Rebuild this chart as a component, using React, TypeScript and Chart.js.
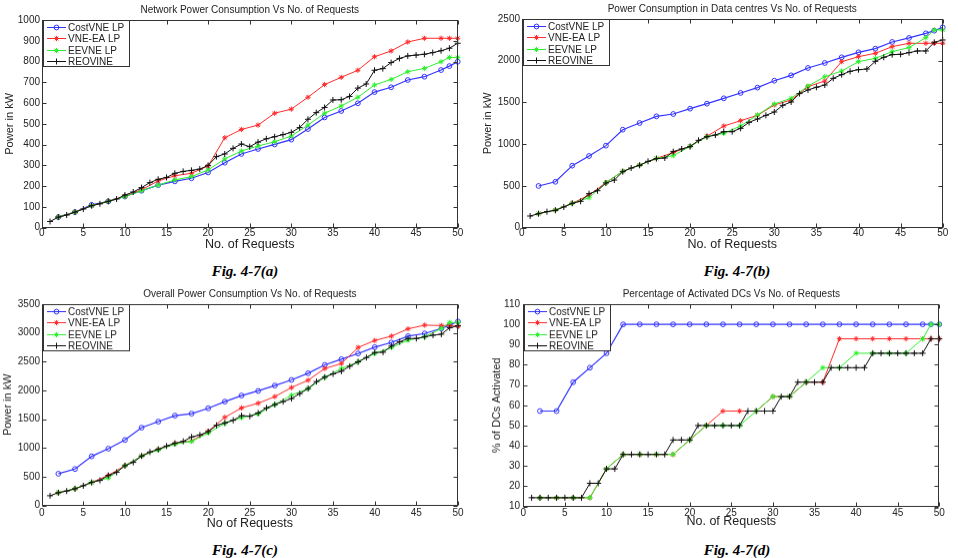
import React, { useEffect, useRef } from "react";
import { Chart, registerables } from "chart.js";

Chart.register(...registerables);
Chart.defaults.font.family = "'Liberation Sans', Arial, sans-serif";

// ---------- shared axes data ----------
const xTickValues = [0, 5, 10, 15, 20, 25, 30, 35, 40, 45, 50];
const reqAll = [1, 2, 3, 4, 5, 6, 7, 8, 9, 10, 11, 12, 13, 14, 15, 16, 17, 18, 19, 20, 21, 22, 23, 24, 25, 26, 27, 28, 29, 30, 31, 32, 33, 34, 35, 36, 37, 38, 39, 40, 41, 42, 43, 44, 45, 46, 47, 48, 49, 50];
const reqSub = [2, 4, 6, 8, 10, 12, 14, 16, 18, 20, 22, 24, 26, 28, 30, 32, 34, 36, 38, 40, 42, 44, 46, 48, 49, 50];

const seriesNames = ["CostVNE LP", "VNE-EA LP", "EEVNE LP", "REOVINE"];

// ---------- (a) Network power consumption ----------
const netCost = [51, 75, 110, 127, 150, 178, 205, 223, 238, 266, 313, 355, 379, 401, 424, 475, 531, 562, 599, 653, 676, 711, 727, 759, 778, 799];
const netVneEa = [51, 75, 106, 127, 152, 183, 225, 250, 262, 297, 433, 473, 494, 551, 571, 628, 689, 724, 758, 823, 851, 894, 912, 912, 912, 912];
const netEevne = [51, 75, 106, 127, 150, 178, 205, 230, 246, 278, 331, 369, 393, 414, 441, 494, 551, 586, 628, 687, 714, 751, 767, 799, 820, 820];
const netReovine = [30, 51, 61, 75, 90, 106, 115, 127, 138, 157, 172, 193, 217, 233, 242, 262, 271, 276, 282, 300, 342, 355, 382, 403, 390, 412, 428, 438, 448, 459, 482, 522, 554, 579, 615, 616, 632, 672, 692, 758, 766, 795, 815, 827, 831, 835, 843, 852, 864, 888];

// ---------- (b) Power consumption in data centres ----------
const dcCost = [500, 550, 743, 859, 983, 1174, 1254, 1334, 1362, 1426, 1486, 1550, 1614, 1678, 1761, 1825, 1913, 1973, 2041, 2101, 2145, 2225, 2273, 2328, 2360, 2400];
const dcVneEa = [168, 212, 292, 390, 540, 675, 750, 830, 900, 975, 1095, 1218, 1282, 1346, 1470, 1530, 1690, 1757, 1989, 2049, 2089, 2169, 2209, 2209, 2209, 2209];
const dcEevne = [168, 212, 292, 359, 540, 675, 750, 830, 863, 975, 1090, 1130, 1218, 1350, 1482, 1550, 1697, 1809, 1877, 1989, 2029, 2109, 2157, 2277, 2369, 2369];
const dcReovine = [140, 168, 192, 208, 248, 292, 316, 407, 443, 535, 571, 671, 715, 747, 795, 827, 835, 911, 943, 971, 1046, 1090, 1110, 1150, 1150, 1190, 1262, 1302, 1346, 1386, 1466, 1506, 1606, 1650, 1682, 1709, 1789, 1833, 1873, 1893, 1901, 1993, 2041, 2073, 2077, 2097, 2117, 2117, 2221, 2249];

// ---------- (c) Overall power consumption ----------
const allCost = [551, 633, 853, 987, 1138, 1352, 1457, 1561, 1596, 1689, 1805, 1910, 1991, 2084, 2182, 2298, 2443, 2542, 2641, 2751, 2832, 2943, 2989, 3076, 3134, 3198];
const allVneEa = [221, 290, 400, 522, 691, 859, 975, 1080, 1120, 1290, 1532, 1695, 1776, 1892, 2049, 2177, 2380, 2467, 2745, 2867, 2943, 3070, 3134, 3128, 3128, 3111];
const allEevne = [221, 290, 400, 476, 691, 859, 965, 1065, 1114, 1259, 1428, 1526, 1590, 1753, 1915, 2031, 2229, 2380, 2496, 2641, 2745, 2873, 2931, 3076, 3181, 3181];
const allReovine = [168, 221, 250, 290, 342, 400, 435, 522, 575, 691, 749, 859, 929, 975, 1033, 1080, 1114, 1190, 1225, 1283, 1393, 1434, 1480, 1561, 1550, 1608, 1695, 1753, 1805, 1857, 1944, 2031, 2153, 2229, 2287, 2333, 2420, 2496, 2571, 2658, 2664, 2769, 2844, 2902, 2902, 2931, 2960, 2977, 3088, 3123];

// ---------- (d) Percentage of activated DCs ----------
const pctCost = [57.14, 57.14, 71.43, 78.57, 85.71, 100, 100, 100, 100, 100, 100, 100, 100, 100, 100, 100, 100, 100, 100, 100, 100, 100, 100, 100, 100, 100];
const pctVneEa = [14.29, 14.29, 14.29, 14.29, 28.57, 35.71, 35.71, 35.71, 35.71, 42.86, 50, 57.14, 57.14, 57.14, 64.29, 64.29, 71.43, 71.43, 92.86, 92.86, 92.86, 92.86, 92.86, 92.86, 92.86, 92.86];
const pctEevne = [14.29, 14.29, 14.29, 14.29, 28.57, 35.71, 35.71, 35.71, 35.71, 42.86, 50, 50, 50, 57.14, 64.29, 64.29, 71.43, 78.57, 78.57, 85.71, 85.71, 85.71, 85.71, 92.86, 100, 100];
const pctReovine = [14.29, 14.29, 14.29, 14.29, 14.29, 14.29, 14.29, 21.43, 21.43, 28.57, 28.57, 35.71, 35.71, 35.71, 35.71, 35.71, 35.71, 42.86, 42.86, 42.86, 50, 50, 50, 50, 50, 50, 57.14, 57.14, 57.14, 57.14, 64.29, 64.29, 71.43, 71.43, 71.43, 71.43, 78.57, 78.57, 78.57, 78.57, 78.57, 85.71, 85.71, 85.71, 85.71, 85.71, 85.71, 85.71, 92.86, 92.86];

// ---------- styles ----------
const COLORS = ["#3333ff", "#ff2a2a", "#2cf02c", "#111111"];
const MARKERS: Array<"circle" | "star" | "cross"> = ["circle", "star", "star", "cross"];
const RADII = [2.4, 2.6, 2.6, 3];
const TXT = "#222222";
const FONT = "'Liberation Sans', Arial, sans-serif";

type Panel = {
  key: string;
  left: number; top: number; width: number; height: number;
  yWidth: number; padR: number; padT: number; xHeight: number;
  xTickPad: number; yTickPad: number; yTitlePad: number;
  yMin: number; yMax: number; yStep: number;
  title: string; xTitle: string; yTitle: string;
  ys: number[][];
  caption: string; capX: number; capY: number;
};

const panels: Panel[] = [
  {
    key: "a", left: 0, top: 0, width: 470, height: 252,
    yWidth: 41.7, padR: 12.3, padT: 20, xHeight: 24.3,
    xTickPad: 0, yTickPad: 1.7, yTitlePad: 3,
    yMin: 0, yMax: 1000, yStep: 100,
    title: "Network Power Consumption Vs No. of Requests",
    xTitle: "No. of Requests", yTitle: "Power in kW",
    ys: [netCost, netVneEa, netEevne, netReovine],
    caption: "Fig. 4-7(a)", capX: 245, capY: 271,
  },
  {
    key: "b", left: 480, top: 0, width: 478, height: 252,
    yWidth: 41.7, padR: 15.3, padT: 19, xHeight: 24.3,
    xTickPad: 0, yTickPad: 1.7, yTitlePad: 1.5,
    yMin: 0, yMax: 2500, yStep: 500,
    title: "Power Consumption in Data centres Vs No. of Requests",
    xTitle: "No. of Requests", yTitle: "Power in kW",
    ys: [dcCost, dcVneEa, dcEevne, dcReovine],
    caption: "Fig. 4-7(b)", capX: 737, capY: 271,
  },
  {
    key: "c", left: 0, top: 285, width: 470, height: 245.5,
    yWidth: 41.7, padR: 12, padT: 19, xHeight: 25.5,
    xTickPad: 1.5, yTickPad: 1.7, yTitlePad: 1.5,
    yMin: 0, yMax: 3500, yStep: 500,
    title: "Overall Power Consumption Vs No. of Requests",
    xTitle: "No of Requests", yTitle: "Power in kW",
    ys: [allCost, allVneEa, allEevne, allReovine],
    caption: "Fig. 4-7(c)", capX: 245, capY: 550,
  },
  {
    key: "d", left: 480, top: 285, width: 478, height: 243.5,
    yWidth: 43.3, padR: 18.7, padT: 19, xHeight: 22.5,
    xTickPad: 1, yTickPad: 3.3, yTitlePad: 10.7,
    yMin: 10, yMax: 110, yStep: 10,
    title: "Percentage of Activated DCs Vs No. of Requests",
    xTitle: "No. of Requests", yTitle: "% of DCs Activated",
    ys: [pctCost, pctVneEa, pctEevne, pctReovine],
    caption: "Fig. 4-7(d)", capX: 737, capY: 550,
  },
];

function drawMarker(ctx: CanvasRenderingContext2D, kind: string, x: number, y: number, r: number, color: string) {
  ctx.save();
  ctx.strokeStyle = color;
  ctx.lineWidth = 1;
  ctx.beginPath();
  if (kind === "circle") {
    ctx.arc(x, y, r, 0, Math.PI * 2);
  } else {
    ctx.moveTo(x - r, y); ctx.lineTo(x + r, y);
    ctx.moveTo(x, y - r); ctx.lineTo(x, y + r);
    if (kind === "star") {
      const d = r * 0.707;
      ctx.moveTo(x - d, y - d); ctx.lineTo(x + d, y + d);
      ctx.moveTo(x - d, y + d); ctx.lineTo(x + d, y - d);
    }
  }
  ctx.stroke();
  ctx.restore();
}

function makeFramePlugin(p: Panel) {
  return {
    id: "matlabFrame" + p.key,
    afterDraw(chart: any) {
      const { ctx, chartArea } = chart;
      const { left, right, top, bottom } = chartArea;
      const xs = chart.scales.x;
      const ys = chart.scales.y;
      ctx.save();
      ctx.strokeStyle = "#333333";
      ctx.lineWidth = 1;
      const L = Math.round(left) + 0.5, R = Math.round(right) - 0.5;
      const T = Math.round(top) + 0.5, B = Math.round(bottom) - 0.5;
      ctx.strokeRect(L, T, R - L, B - T);
      const tl = 4;
      ctx.beginPath();
      xs.ticks.forEach((t: any) => {
        const px = Math.round(xs.getPixelForValue(t.value)) + 0.5;
        ctx.moveTo(px, B); ctx.lineTo(px, B - tl);
        ctx.moveTo(px, T); ctx.lineTo(px, T + tl);
      });
      ys.ticks.forEach((t: any) => {
        const py = Math.round(ys.getPixelForValue(t.value)) + 0.5;
        ctx.moveTo(L, py); ctx.lineTo(L + tl, py);
        ctx.moveTo(R, py); ctx.lineTo(R - tl, py);
      });
      ctx.stroke();
      ctx.fillStyle = TXT;
      ctx.font = "10px " + FONT;
      ctx.textAlign = "center";
      ctx.textBaseline = "middle";
      ctx.fillText(p.title, (left + right) / 2, top - 9.5);
      const lx = L + 0.5, ly = T, lw = 86, lh = 46;
      ctx.fillStyle = "#ffffff";
      ctx.fillRect(lx, ly, lw, lh);
      ctx.strokeStyle = "#333333";
      ctx.strokeRect(lx + 0.5, ly, lw, lh);
      ctx.font = "10px " + FONT;
      ctx.textAlign = "left";
      seriesNames.forEach((name, i) => {
        const ry = Math.round(ly + 6.5 + i * 11.4) + 0.5;
        ctx.strokeStyle = COLORS[i];
        ctx.lineWidth = 1;
        ctx.beginPath();
        ctx.moveTo(lx + 4, ry); ctx.lineTo(lx + 23, ry);
        ctx.stroke();
        drawMarker(ctx, MARKERS[i], lx + 13.5, ry, RADII[i], COLORS[i]);
        ctx.fillStyle = TXT;
        ctx.fillText(name, lx + 25, ry + 0.5);
      });
      ctx.restore();
    },
  };
}

function PanelChart({ p }: { p: Panel }) {
  const ref = useRef<HTMLCanvasElement | null>(null);
  useEffect(() => {
    if (!ref.current) return;
    const datasets = p.ys.map((vals, i) => {
      const xs = vals.length === reqAll.length ? reqAll : reqSub;
      return {
        label: seriesNames[i],
        data: vals.map((v, k) => ({ x: xs[k], y: v })),
        borderColor: COLORS[i],
        backgroundColor: COLORS[i],
        borderWidth: i === 0 ? 1.2 : 1,
        pointStyle: MARKERS[i] === "circle" ? "circle" : MARKERS[i] === "star" ? "star" : "cross",
        pointRadius: RADII[i],
        pointBorderWidth: 1,
        pointBorderColor: COLORS[i],
        pointBackgroundColor: MARKERS[i] === "circle" ? "rgba(0,0,0,0)" : COLORS[i],
        tension: 0,
        fill: false,
        clip: false as any,
        order: 4 - i,
      };
    });
    const chart = new Chart(ref.current, {
      type: "line",
      data: { datasets },
      options: {
        responsive: false,
        animation: false,
        devicePixelRatio: 1,
        events: [],
        layout: { padding: { left: 0, right: p.padR, top: p.padT, bottom: 0 } },
        plugins: {
          legend: { display: false },
          title: { display: false },
          tooltip: { enabled: false },
        },
        scales: {
          x: {
            type: "linear",
            min: 0,
            max: 50,
            grid: { display: false, drawTicks: false },
            border: { display: false },
            afterBuildTicks: (s: any) => { s.ticks = xTickValues.map((v) => ({ value: v })); },
            ticks: { autoSkip: false, maxRotation: 0, minRotation: 0, padding: p.xTickPad, color: TXT, font: { size: 10 }, callback: (v: any) => String(v) },
            title: { display: true, text: p.xTitle, color: TXT, font: { size: 12.5 }, padding: { top: 0, bottom: 0 } },
            afterFit: (s: any) => { s.height = p.xHeight; },
          },
          y: {
            type: "linear",
            min: p.yMin,
            max: p.yMax,
            grid: { display: false, drawTicks: false },
            border: { display: false },
            ticks: { stepSize: p.yStep, autoSkip: false, padding: p.yTickPad, color: TXT, font: { size: 10 }, callback: (v: any) => String(v) },
            title: { display: true, text: p.yTitle, color: TXT, font: { size: 11 }, padding: { top: p.yTitlePad, bottom: 0 } },
            afterFit: (s: any) => { s.width = p.yWidth; },
          },
        },
      },
      plugins: [makeFramePlugin(p)],
    } as any);
    return () => chart.destroy();
  }, [p]);
  return (
    <canvas
      ref={ref}
      width={p.width}
      height={p.height}
      style={{ position: "absolute", left: p.left, top: p.top, width: p.width, height: p.height }}
    />
  );
}

export default function App() {
  return (
    <div
      style={{
        position: "fixed",
        left: 0,
        top: 0,
        width: 958,
        height: 558,
        background: "#ffffff",
        overflow: "hidden",
      }}
    >
      {panels.map((p) => (
        <PanelChart key={p.key} p={p} />
      ))}
      {panels.map((p) => (
        <div
          key={"cap" + p.key}
          style={{
            position: "absolute",
            left: p.capX,
            top: p.capY,
            transform: "translate(-50%, -50%)",
            fontFamily: "'Liberation Serif', 'Times New Roman', serif",
            fontWeight: "bold",
            fontStyle: "italic",
            fontSize: 15,
            color: "#000",
            whiteSpace: "nowrap",
          }}
        >
          {p.caption}
        </div>
      ))}
    </div>
  );
}
